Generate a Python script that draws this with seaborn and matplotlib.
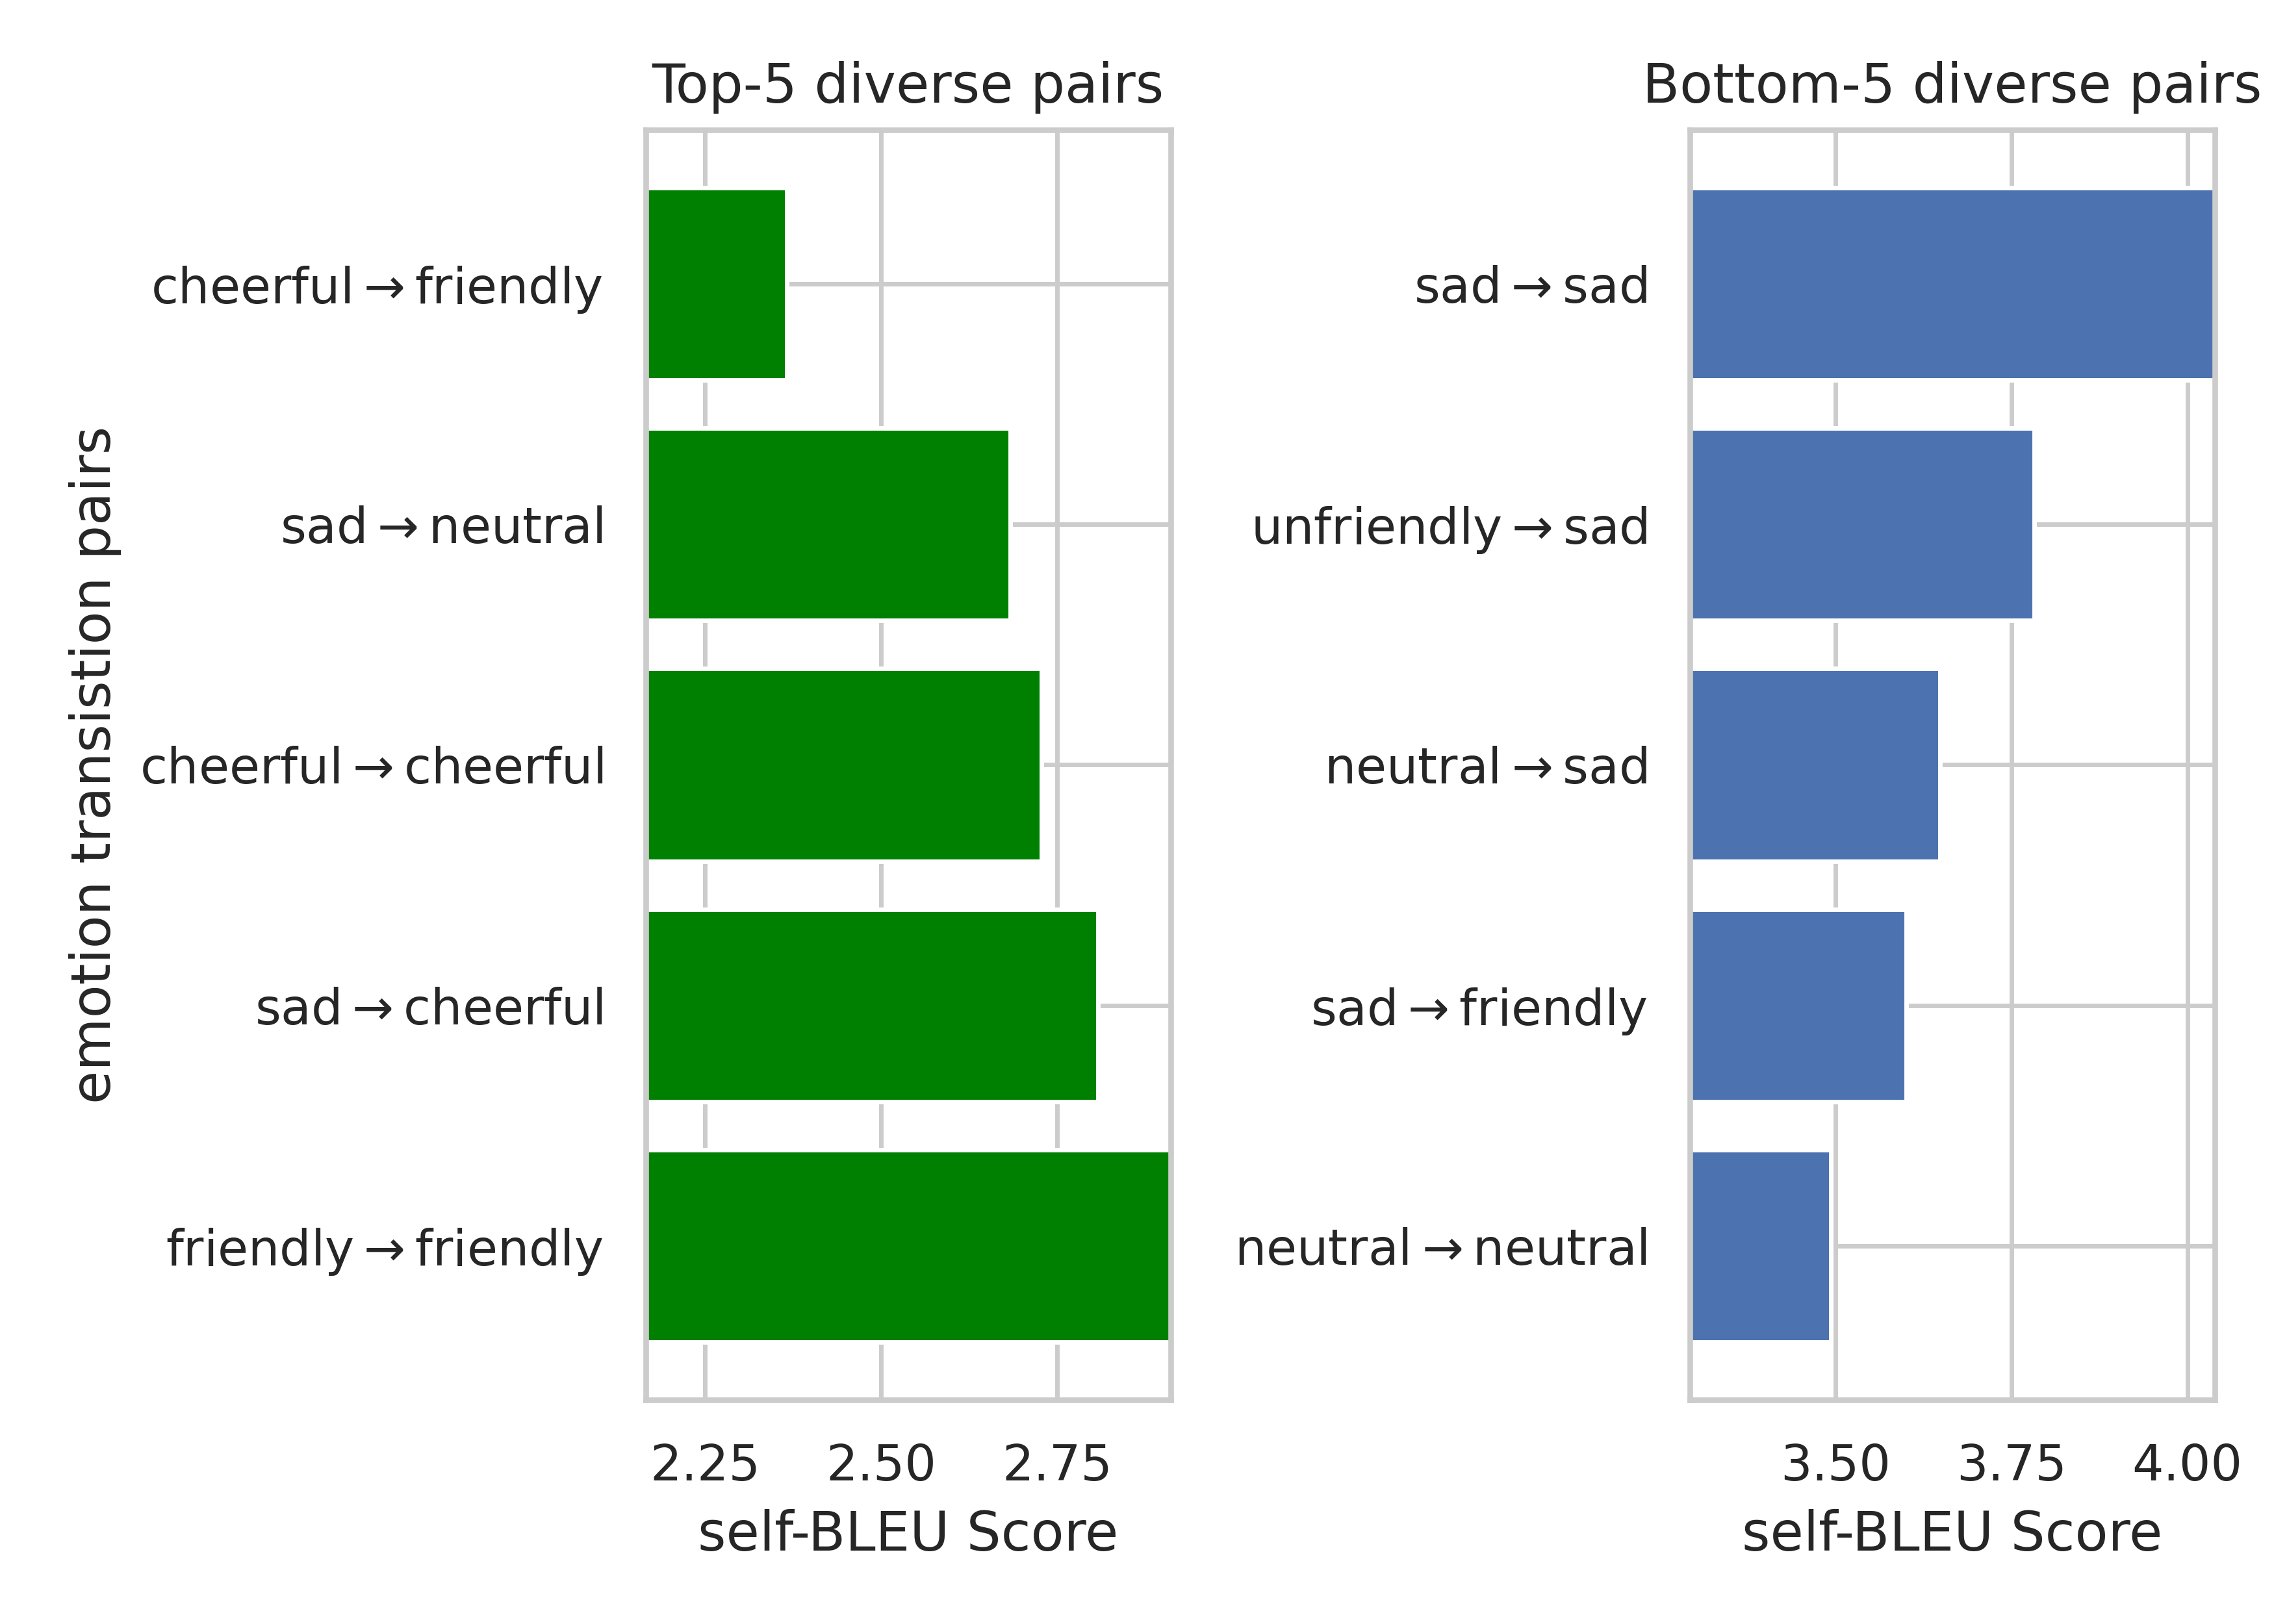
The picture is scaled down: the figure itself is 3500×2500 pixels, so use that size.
import pandas as pd
import seaborn as sns
import matplotlib.pyplot as plt

# self-BLEU scores, listed top to bottom
top_pairs = ['cheerful$\\rightarrow$friendly', 'sad$\\rightarrow$neutral',
             'cheerful$\\rightarrow$cheerful', 'sad$\\rightarrow$cheerful',
             'friendly$\\rightarrow$friendly']
top_scores = [2.366, 2.683, 2.728, 2.808, 2.911]

bottom_pairs = ['sad$\\rightarrow$sad', 'unfriendly$\\rightarrow$sad',
                'neutral$\\rightarrow$sad', 'sad$\\rightarrow$friendly',
                'neutral$\\rightarrow$neutral']
bottom_scores = [4.039, 3.782, 3.648, 3.600, 3.493]

sns.set_theme(style='whitegrid', context='notebook')

fig, axes = plt.subplots(1, 2, figsize=(7, 5))
fig.subplots_adjust(left=0.284, right=0.974, bottom=0.138, top=0.92, wspace=0.99)


def draw_panel(ax, pairs, scores, color, title):
    df = pd.DataFrame({'pair': pairs, 'score': scores})
    sns.barplot(data=df, x='score', y='pair', orient='h', color=color,
                saturation=1, width=0.8, edgecolor='white', linewidth=1, ax=ax)
    ax.yaxis.grid(True)
    ax.set_ylim(len(pairs) - 1 + 0.64, -0.64)
    ax.set_xlim(min(scores) - 0.2, max(scores))
    ax.set_title(title)
    ax.set_xlabel('self-BLEU Score')
    ax.set_ylabel('')


draw_panel(axes[0], top_pairs, top_scores, 'green', 'Top-5 diverse pairs')
draw_panel(axes[1], bottom_pairs, bottom_scores, '#4C72B0', 'Bottom-5 diverse pairs')
axes[0].set_ylabel('emotion transistion pairs')

plt.savefig('out.png', dpi=500)
plt.close()
